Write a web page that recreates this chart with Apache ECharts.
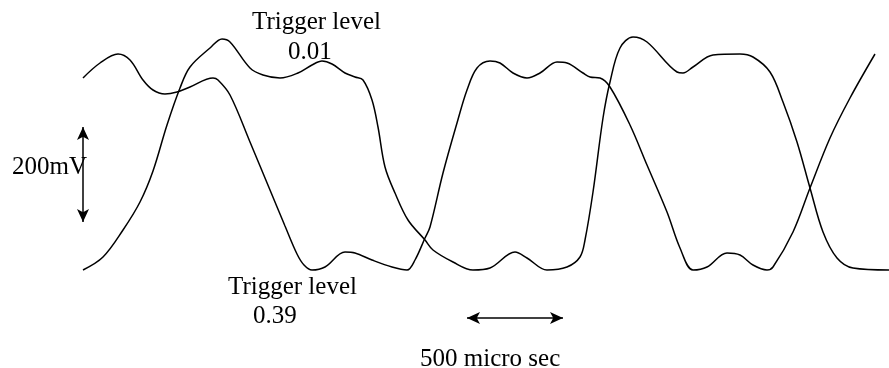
<!DOCTYPE html>
<html>
<head>
    <meta charset="utf-8">
    <title>trigger levels</title>
    <style type="text/css">
        * {
            margin: 0;
            padding: 0;
        }

        #chart {
            width: 889px;
            height: 368px;
            background: #fff;
        }
    </style>
</head>
<body>

<div id="chart"></div>

<script src="https://cdn.jsdelivr.net/npm/echarts@6/dist/echarts.min.js"></script>
<script type="text/javascript">

    //  trace: time (screen units) / level (baseline = 0)
    let traceATime = [83, 100, 118, 130, 143, 153, 165, 177, 190, 213, 218, 230, 250, 270, 285, 297, 304, 312, 325, 345, 355,
        372, 392, 407, 415, 425, 430, 443, 457, 467, 477, 490, 500, 513, 527, 540, 557, 567, 583, 590, 600,
        610, 630, 647, 667, 680, 693, 707, 727, 740, 753, 767, 773, 793, 810, 830, 850, 875];
    let traceALevel = [192, 207, 216, 210, 190, 180, 176, 178, 183, 192, 190, 175, 128, 80, 44, 16, 5, 0, 3, 18, 17,
        10, 3, 0, 10, 32, 43, 97, 147, 180, 202, 209, 207, 197, 192, 197, 208, 207, 197, 193, 192,
        183, 145, 105, 58, 22, 0, 3, 17, 15, 5, 0, 3, 38, 82, 132, 172, 216];

    let traceBTime = [83, 103, 123, 140, 153, 167, 180, 190, 210, 222, 230, 250, 263, 280, 298, 312, 322, 332, 345, 355,
        363, 372, 378, 385, 395, 408, 425, 433, 453, 473, 490, 515, 527, 547, 567, 580, 585, 593, 603, 610,
        620, 633, 647, 677, 683, 693, 713, 740, 753, 770, 783, 797, 810, 823, 837, 853, 889];
    let traceBLevel = [0, 13, 40, 68, 99, 145, 182, 203, 222, 231, 228, 202, 195, 192, 197, 205, 209, 206, 197, 193,
        190, 170, 143, 103, 77, 50, 30, 20, 8, 0, 2, 18, 12, 0, 3, 13, 30, 78, 152, 188,
        222, 233, 228, 198, 197, 203, 215, 216, 213, 198, 168, 128, 82, 38, 12, 2, 0];

    //  scale markers: 200mV (vertical) and 500 micro sec (horizontal)
    let voltScale = [[83, 143], [83, 48]];
    let timeScale = [[467, -48], [563, -48]];

    let serif = '25px "Liberation Serif", "Times New Roman", serif';

    function zip(xs, ys) {
        return xs.map(function (x, i) { return [x, ys[i]]; });
    }

    var myChart = echarts.init(document.getElementById('chart'));

    var option = {
        animation: false,
        backgroundColor: '#fff',
        grid: {left: 0, right: 0, top: 0, bottom: 0},
        xAxis: {type: 'value', min: 0, max: 889, show: false},
        yAxis: {type: 'value', min: -98, max: 270, show: false},

        graphic: [
            {type: 'text', left: 252, top: 10, style: {text: 'Trigger level', font: serif, fill: '#000'}},
            {type: 'text', left: 288, top: 40, style: {text: '0.01', font: serif, fill: '#000'}},
            {type: 'text', left: 12, top: 155, style: {text: '200mV', font: serif, fill: '#000'}},
            {type: 'text', left: 228, top: 275, style: {text: 'Trigger level', font: serif, fill: '#000'}},
            {type: 'text', left: 253, top: 304, style: {text: '0.39', font: serif, fill: '#000'}},
            {type: 'text', left: 420, top: 347, style: {text: '500 micro sec', font: serif, fill: '#000'}}
        ],

        series: [
            {
                name: 'trace A',
                type: 'line',
                data: zip(traceATime, traceALevel),
                smooth: 0.35,
                showSymbol: false,
                lineStyle: {color: '#000', width: 1.5},
                z: 2
            },
            {
                name: 'trace B',
                type: 'line',
                data: zip(traceBTime, traceBLevel),
                smooth: 0.35,
                showSymbol: false,
                lineStyle: {color: '#000', width: 1.5},
                z: 2,
                markLine: {
                    silent: true,
                    symbol: ['arrow', 'arrow'],
                    symbolSize: [9, 13],
                    label: {show: false},
                    lineStyle: {color: '#000', width: 1.5, type: 'solid'},
                    data: [
                        [{coord: voltScale[0]}, {coord: voltScale[1]}],
                        [{coord: timeScale[0]}, {coord: timeScale[1]}]
                    ]
                }
            }
        ]
    };

    myChart.setOption(option);
</script>
</body>
</html>
